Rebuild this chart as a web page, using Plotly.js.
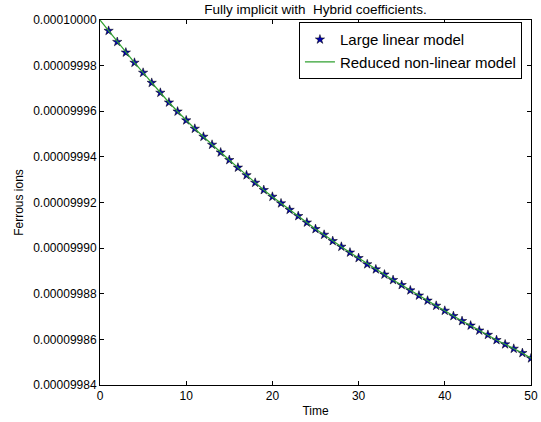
<!DOCTYPE html>
<html>
<head>
<meta charset="utf-8">
<script src="https://cdn.plot.ly/plotly-3.0.1.min.js"></script>
<style>
  html, body { margin: 0; padding: 0; background: #ffffff; }
  #chart { width: 541px; height: 422px; }
</style>
</head>
<body>
<div id="chart"></div>
<script>
// Time steps of the simulation
const time = [0, 1, 2, 3, 4, 5, 6, 7, 8, 9, 10, 11, 12, 13, 14, 15, 16, 17, 18, 19, 20,
  21, 22, 23, 24, 25, 26, 27, 28, 29, 30, 31, 32, 33, 34, 35, 36, 37, 38, 39, 40,
  41, 42, 43, 44, 45, 46, 47, 48, 49, 50];

// Ferrous ion concentration from the reduced non-linear model
const reducedModel = [
  0.00010000000, 0.00009999527, 0.00009999040, 0.00009998575, 0.00009998128,
  0.00009997690, 0.00009997247, 0.00009996813, 0.00009996384, 0.00009995989,
  0.00009995603, 0.00009995235, 0.00009994884, 0.00009994534, 0.00009994196,
  0.00009993863, 0.00009993530, 0.00009993197, 0.00009992868, 0.00009992548,
  0.00009992254, 0.00009991965, 0.00009991680, 0.00009991408, 0.00009991123,
  0.00009990838, 0.00009990588, 0.00009990312, 0.00009990062, 0.00009989808,
  0.00009989567, 0.00009989295, 0.00009989072, 0.00009988844, 0.00009988603,
  0.00009988384, 0.00009988151, 0.00009987923, 0.00009987700, 0.00009987476,
  0.00009987257, 0.00009987025, 0.00009986805, 0.00009986608, 0.00009986389,
  0.00009986200, 0.00009985972, 0.00009985784, 0.00009985591, 0.00009985403,
  0.00009985170
];

// Large linear model output (reported from the first step onwards)
const linearTime = time.slice(1);
const linearModel = [
  0.00009999527, 0.00009999040, 0.00009998575, 0.00009998128,
  0.00009997690, 0.00009997247, 0.00009996813, 0.00009996384, 0.00009995989,
  0.00009995603, 0.00009995235, 0.00009994884, 0.00009994534, 0.00009994196,
  0.00009993863, 0.00009993530, 0.00009993197, 0.00009992868, 0.00009992548,
  0.00009992254, 0.00009991965, 0.00009991680, 0.00009991408, 0.00009991123,
  0.00009990838, 0.00009990588, 0.00009990312, 0.00009990062, 0.00009989808,
  0.00009989567, 0.00009989295, 0.00009989072, 0.00009988844, 0.00009988603,
  0.00009988384, 0.00009988151, 0.00009987923, 0.00009987700, 0.00009987476,
  0.00009987257, 0.00009987025, 0.00009986805, 0.00009986608, 0.00009986389,
  0.00009986200, 0.00009985972, 0.00009985784, 0.00009985591, 0.00009985403,
  0.00009985170
];

// Axis ticks
const xTickVals = [0, 10, 20, 30, 40, 50];
const yTickVals = [0.00009984, 0.00009986, 0.00009988, 0.00009990, 0.00009992,
  0.00009994, 0.00009996, 0.00009998, 0.00010000];
const yTickText = ['0.00009984', '0.00009986', '0.00009988', '0.00009990', '0.00009992',
  '0.00009994', '0.00009996', '0.00009998', '0.00010000'];

const FONT = 'Liberation Sans, Arial, Helvetica, sans-serif';

const traces = [
  {
    x: linearTime,
    y: linearModel,
    name: 'Large linear model',
    type: 'scatter',
    mode: 'markers',
    cliponaxis: true,
    marker: { symbol: 'star', size: 7, color: '#0000b0', line: { color: '#000000', width: 0.5 } }
  },
  {
    x: time,
    y: reducedModel,
    name: 'Reduced non-linear model',
    type: 'scatter',
    mode: 'lines',
    line: { color: '#30a030', width: 1.2 }
  }
];

const axisCommon = {
  showgrid: false,
  zeroline: false,
  showline: true,
  linecolor: '#000000',
  linewidth: 1,
  mirror: 'ticks',
  ticks: 'inside',
  ticklen: 4,
  tickwidth: 1,
  tickcolor: '#000000',
  tickfont: { family: FONT, size: 12, color: '#000000' }
};

const layout = {
  width: 541,
  height: 422,
  margin: { l: 100, r: 10, t: 20, b: 37 },
  paper_bgcolor: '#ffffff',
  plot_bgcolor: '#ffffff',
  font: { family: FONT, color: '#000000' },
  title: {
    text: 'Fully implicit with  Hybrid coefficients.',
    font: { family: FONT, size: 13.5, color: '#000000' },
    xref: 'paper', x: 0.5, xanchor: 'center',
    yref: 'container', y: 0.978, yanchor: 'middle'
  },
  xaxis: Object.assign({}, axisCommon, {
    range: [0, 50],
    tickvals: xTickVals,
    title: { text: 'Time', font: { family: FONT, size: 12, color: '#000000' }, standoff: 4 }
  }),
  yaxis: Object.assign({}, axisCommon, {
    range: [0.00009984, 0.00010000],
    tickvals: yTickVals,
    ticktext: yTickText,
    title: { text: 'Ferrous ions', font: { family: FONT, size: 12, color: '#000000' }, standoff: 6 }
  }),
  showlegend: true,
  legend: {
    x: 0.979, xanchor: 'right',
    y: 0.994, yanchor: 'top',
    bgcolor: '#ffffff',
    bordercolor: '#000000',
    borderwidth: 1,
    font: { family: FONT, size: 15, color: '#000000' },
    tracegroupgap: 0
  }
};

Plotly.newPlot('chart', traces, layout, { displayModeBar: false, staticPlot: true });
</script>
</body>
</html>
